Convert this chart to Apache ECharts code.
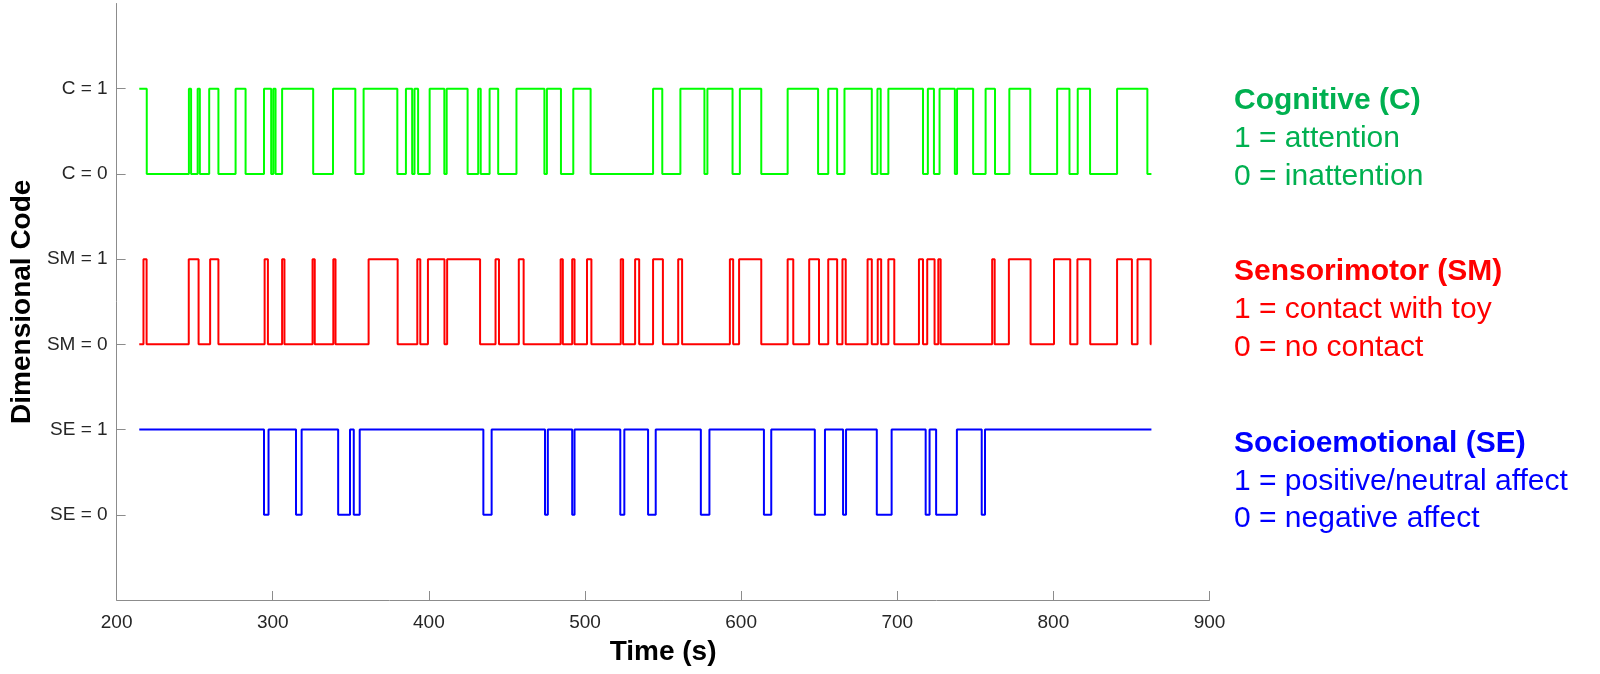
<!DOCTYPE html>
<html>
<head>
<meta charset="utf-8">
<title>Dimensional Code</title>
<script src="https://cdn.jsdelivr.net/npm/echarts@6.0.0/dist/echarts.min.js"></script>
<style>
  html, body { margin: 0; padding: 0; background: #fff; }
  #main { width: 1600px; height: 674px; }
</style>
</head>
<body>
<div id="main"></div>
<script>
// coded session (s)
const startTime = 214.5;
const endTime = 862.8;

// state at startTime, then every moment the code flips
const cogStart = 1;
const cogSwitches = [219.3, 246.3, 247.7, 251.9, 253.3, 259.3, 265.2, 276.2, 282.6, 294.4,
  299.0, 300.4, 301.8, 306.0, 325.9, 338.6, 352.9, 358.2, 379.8, 385.3,
  389.3, 390.8, 393.1, 400.5, 409.9, 411.4, 424.8, 431.6, 433.2, 438.9, 444.4, 456.1,
  474.0, 475.6, 484.6, 492.5, 503.6, 543.6, 549.5, 561.1, 576.5, 578.4, 594.5, 599.2,
  612.9, 629.8, 649.3, 655.8, 661.5, 666.2, 683.7, 687.3, 689.4, 694.3, 716.5, 719.6,
  723.5, 727.1, 736.9, 738.3, 748.6, 756.6, 762.6, 771.8, 785.2, 802.4, 810.3, 815.6,
  823.5, 840.8, 860.2];

const smStart = 0;
const smSwitches = [217.2, 219.2, 246.2, 252.5, 259.9, 265.2, 294.8, 296.9, 306.0, 307.5,
  325.5, 326.9, 338.8, 340.2, 361.4, 380.0, 392.6, 394.5, 399.4, 410.0, 411.7, 432.8,
  442.7, 444.9, 457.6, 460.7, 484.4, 485.8, 491.8, 493.3, 501.3, 504.1, 522.9, 524.4,
  532.1, 534.7, 543.6, 549.9, 559.7, 562.2, 592.8, 594.9, 598.7, 612.9, 629.8, 633.4,
  643.6, 649.9, 655.8, 661.5, 664.9, 667.0, 681.0, 683.7, 687.5, 689.7, 694.3, 698.1,
  713.9, 716.5, 719.2, 723.9, 726.3, 727.8, 760.8, 762.4, 771.5, 785.4, 800.4, 810.8,
  815.4, 823.6, 840.8, 850.3, 853.9, 862.3];

const seStart = 1;
const seSwitches = [294.4, 297.3, 314.9, 318.5, 341.9, 349.5, 351.9, 355.7, 434.9, 440.2,
  474.4, 476.2, 491.8, 493.3, 522.6, 525.2, 540.4, 545.3, 574.2, 579.7, 614.6, 619.3,
  647.2, 653.7, 665.3, 667.2, 686.9, 696.4, 718.2, 720.7, 724.9, 738.2, 754.1, 756.2];

// each code gets its own pair of rows on the y axis
const yTickValues = [1, 2, 3, 4, 5, 6];
const yTickLabels = ['SE = 0', 'SE = 1', 'SM = 0', 'SM = 1', 'C = 0', 'C = 1'];

const font = '"Liberation Sans", Arial, Helvetica, sans-serif';
const axisColor = '#8c8c8c';

function buildSteps(first, switches, base) {
  let state = first;
  const pts = [[startTime, base + state]];
  switches.forEach(function (t) {
    state = 1 - state;
    pts.push([t, base + state]);
  });
  pts.push([endTime, base + state]);
  return pts;
}

function stepSeries(name, data, color) {
  return {
    name: name,
    type: 'line',
    step: 'end',
    data: data,
    showSymbol: false,
    silent: true,
    lineStyle: { color: color, width: 2 },
    itemStyle: { color: color }
  };
}

function legendText(str, top, color, bold) {
  return {
    type: 'text',
    left: 1234,
    top: top,
    style: {
      text: str,
      fill: color,
      font: (bold ? 'bold ' : '') + '30px ' + font
    }
  };
}

const chart = echarts.init(document.getElementById('main'));

const option = {
  animation: false,
  backgroundColor: '#fff',
  grid: {
    left: 105.5,
    right: 390.5,
    top: 3.5,
    bottom: 74
  },
  xAxis: {
    type: 'value',
    min: 200,
    max: 900,
    interval: 100,
    name: 'Time (s)',
    nameLocation: 'middle',
    nameGap: 38,
    nameTextStyle: { fontFamily: font, fontSize: 28, fontWeight: 'bold', color: '#000' },
    axisLine: { show: true, onZero: false, lineStyle: { color: axisColor, width: 1 } },
    axisTick: { show: true, inside: true, length: 9, lineStyle: { color: axisColor } },
    axisLabel: { fontFamily: font, fontSize: 19, color: '#262626', margin: 13 },
    splitLine: { show: false }
  },
  yAxis: {
    type: 'value',
    min: 0,
    max: 7,
    interval: 1,
    name: 'Dimensional Code',
    nameLocation: 'middle',
    nameRotate: 90,
    nameGap: 74,
    nameTextStyle: { fontFamily: font, fontSize: 28, fontWeight: 'bold', color: '#000' },
    axisLine: { show: true, lineStyle: { color: axisColor, width: 1 } },
    axisTick: {
      show: true, inside: true, length: 9,
      customValues: yTickValues,
      lineStyle: { color: axisColor }
    },
    axisLabel: {
      customValues: yTickValues,
      fontFamily: font, fontSize: 19, color: '#262626', margin: 9,
      formatter: function (v) {
        const i = yTickValues.indexOf(v);
        return i < 0 ? '' : yTickLabels[i];
      }
    },
    splitLine: { show: false }
  },
  graphic: [
    legendText('Cognitive (C)', 86, '#00b050', true),
    legendText('1 = attention', 124, '#00b050', false),
    legendText('0 = inattention', 162, '#00b050', false),
    legendText('Sensorimotor (SM)', 257, '#ff0000', true),
    legendText('1 = contact with toy', 295, '#ff0000', false),
    legendText('0 = no contact', 333, '#ff0000', false),
    legendText('Socioemotional (SE)', 429, '#0000ff', true),
    legendText('1 = positive/neutral affect', 467, '#0000ff', false),
    legendText('0 = negative affect', 504, '#0000ff', false)
  ],
  series: [
    stepSeries('Cognitive', buildSteps(cogStart, cogSwitches, 5), '#00ff00'),
    stepSeries('Sensorimotor', buildSteps(smStart, smSwitches, 3), '#ff0000'),
    stepSeries('Socioemotional', buildSteps(seStart, seSwitches, 1), '#0000ff')
  ]
};

chart.setOption(option);

window.addEventListener('resize', function () {
  chart.resize();
});
</script>
</body>
</html>
